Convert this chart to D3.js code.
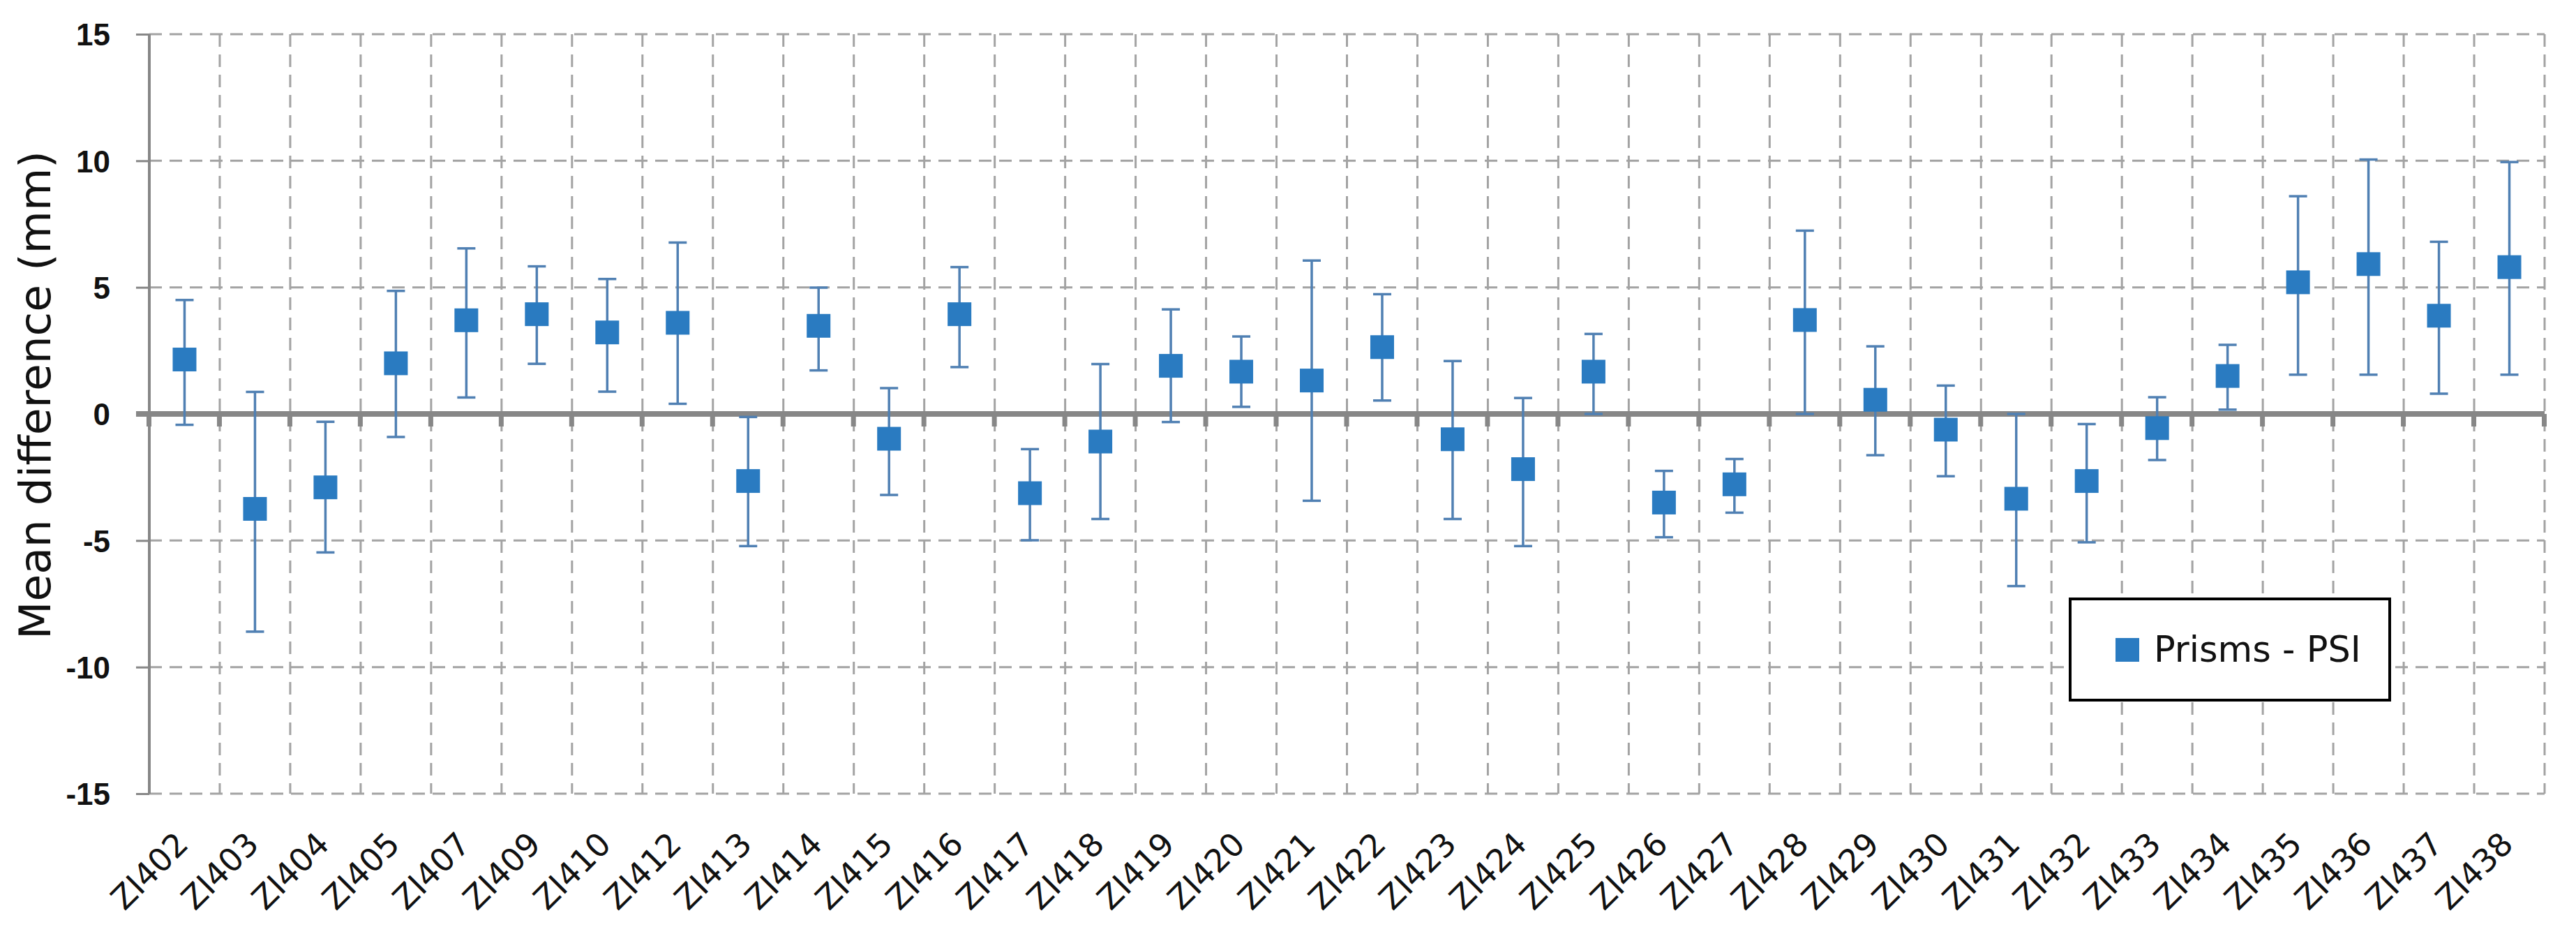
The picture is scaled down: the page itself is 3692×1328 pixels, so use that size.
<!DOCTYPE html>
<html>
<head>
<meta charset="utf-8">
<script src="https://cdn.jsdelivr.net/npm/d3@7"></script>
<style>
  html, body { margin: 0; padding: 0; background: #fff; }
  svg { display: block; }
</style>
</head>
<body>
<div id="chart"></div>
<script>
// Prisms - PSI mean difference per point, with error bars

const categories = ["ZI402", "ZI403", "ZI404", "ZI405", "ZI407", "ZI409", "ZI410", "ZI412", "ZI413", "ZI414",
    "ZI415", "ZI416", "ZI417", "ZI418", "ZI419", "ZI420", "ZI421", "ZI422", "ZI423", "ZI424",
    "ZI425", "ZI426", "ZI427", "ZI428", "ZI429", "ZI430", "ZI431", "ZI432", "ZI433", "ZI434",
    "ZI435", "ZI436", "ZI437", "ZI438"];

const meanDiff = [2.15, -3.75, -2.9, 2.0, 3.7, 3.94, 3.22, 3.6, -2.65, 3.48,
    -0.98, 3.94, -3.13, -1.09, 1.9, 1.67, 1.32, 2.64, -1.0, -2.18,
    1.67, -3.5, -2.78, 3.71, 0.56, -0.62, -3.35, -2.65, -0.56, 1.5,
    5.2, 5.92, 3.88, 5.8];

const upperBound = [4.5, 0.87, -0.31, 4.86, 6.54, 5.83, 5.33, 6.77, -0.12, 4.99,
    1.02, 5.8, -1.39, 1.97, 4.13, 3.06, 6.06, 4.73, 2.09, 0.63,
    3.16, -2.25, -1.78, 7.24, 2.67, 1.12, 0.0, -0.4, 0.66, 2.73,
    8.6, 10.05, 6.8, 9.95];

const lowerBound = [-0.43, -8.6, -5.47, -0.91, 0.65, 1.98, 0.88, 0.4, -5.22, 1.72,
    -3.2, 1.85, -4.99, -4.15, -0.32, 0.28, -3.43, 0.53, -4.15, -5.22,
    0.0, -4.87, -3.9, 0.0, -1.63, -2.46, -6.8, -5.07, -1.82, 0.17,
    1.55, 1.55, 0.8, 1.55];

const yTicks = [-15, -10, -5, 0, 5, 10, 15];
const seriesName = "Prisms - PSI";
const yTitle = "Mean  difference  (mm)";

const W = 3692, H = 1328;
const plotL = 214, plotR = 3647, plotT = 49, plotB = 1137;

const gridColor = "#a3a3a3";
const axisColor = "#878787";
const markerColor = "#2a7bc1";
const barColor = "#5080b3";

const svg = d3.select("#chart").append("svg")
    .attr("width", W).attr("height", H);

const x = d3.scaleBand().domain(categories).range([plotL, plotR]).padding(0);
const y = d3.scaleLinear().domain([-15, 15]).range([plotB, plotT]);

// dashed grid: horizontal at each tick except zero, vertical at category boundaries
const boundaries = categories.map(c => x(c) + x.bandwidth());

svg.append("g").selectAll("line")
    .data(yTicks.filter(v => v !== 0))
    .join("line")
    .attr("x1", plotL).attr("x2", plotR)
    .attr("y1", d => y(d)).attr("y2", d => y(d))
    .attr("stroke", gridColor).attr("stroke-width", 3)
    .attr("stroke-dasharray", "18,11");

svg.append("g").selectAll("line")
    .data(boundaries)
    .join("line")
    .attr("x1", d => d).attr("x2", d => d)
    .attr("y1", plotT).attr("y2", plotB)
    .attr("stroke", gridColor).attr("stroke-width", 3)
    .attr("stroke-dasharray", "18,11");

// y axis (plain hyphen for negatives, like the original)
const yAxis = d3.axisLeft(y).tickValues(yTicks).tickSize(19).tickPadding(0).tickFormat(d => String(d));
const yg = svg.append("g").attr("transform", `translate(${plotL},0)`).call(yAxis);
yg.select(".domain").attr("stroke", axisColor).attr("stroke-width", 4).attr("d", `M0,${plotT}V${plotB}`);
yg.selectAll(".tick line").attr("stroke", axisColor).attr("stroke-width", 3);
yg.selectAll(".tick text")
    .attr("x", -56)
    .attr("dy", "0.36em")
    .attr("fill", "#111")
    .style("font-family", "'Liberation Sans', Arial, sans-serif")
    .style("font-weight", "bold")
    .style("font-size", "44px");

// category axis sits on zero
const xAxis = d3.axisBottom(x).tickSize(0).tickFormat(d => d);
const xg = svg.append("g").attr("transform", `translate(0,${y(0)})`).call(xAxis);
xg.select(".domain").remove();
xg.selectAll(".tick text")
    .attr("text-anchor", "end")
    .attr("transform", `translate(8,${plotB - y(0) + 75}) rotate(-45)`)
    .attr("y", 0).attr("dy", 0)
    .attr("fill", "#111")
    .style("font-family", "'DejaVu Sans', Verdana, sans-serif")
    .style("font-size", "46px");

svg.append("line")
    .attr("x1", plotL - 19).attr("x2", plotR)
    .attr("y1", y(0)).attr("y2", y(0))
    .attr("stroke", axisColor).attr("stroke-width", 8);

svg.append("g").selectAll("rect")
    .data([plotL].concat(boundaries))
    .join("rect")
    .attr("x", d => d - 4).attr("y", y(0))
    .attr("width", 7).attr("height", 18)
    .attr("fill", axisColor);

// error bars
const series = categories.map((c, i) => ({ c, v: meanDiff[i], hi: upperBound[i], lo: lowerBound[i] }));
const cx = d => x(d.c) + x.bandwidth() / 2;
const capW = 26;

const eb = svg.append("g").attr("stroke", barColor).attr("stroke-width", 3.5);
eb.selectAll("line.stem").data(series).join("line")
    .attr("class", "stem")
    .attr("x1", cx).attr("x2", cx)
    .attr("y1", d => y(d.hi)).attr("y2", d => y(d.lo));
eb.selectAll("line.cap-hi").data(series).join("line")
    .attr("class", "cap-hi")
    .attr("x1", d => cx(d) - capW / 2).attr("x2", d => cx(d) + capW / 2)
    .attr("y1", d => y(d.hi)).attr("y2", d => y(d.hi));
eb.selectAll("line.cap-lo").data(series).join("line")
    .attr("class", "cap-lo")
    .attr("x1", d => cx(d) - capW / 2).attr("x2", d => cx(d) + capW / 2)
    .attr("y1", d => y(d.lo)).attr("y2", d => y(d.lo));

// square markers
const ms = 34;
svg.append("g").selectAll("rect").data(series).join("rect")
    .attr("x", d => cx(d) - ms / 2).attr("y", d => y(d.v) - ms / 2)
    .attr("width", ms).attr("height", ms)
    .attr("fill", markerColor);

// y axis title
svg.append("text")
    .attr("transform", `translate(72,566) rotate(-90)`)
    .attr("text-anchor", "middle")
    .attr("fill", "#111")
    .style("font-family", "'DejaVu Sans', Verdana, sans-serif")
    .style("font-size", "63px")
    .text(yTitle);

// legend
const lg = svg.append("g").attr("transform", "translate(2967,858)");
lg.append("rect")
    .attr("width", 458).attr("height", 145)
    .attr("fill", "#fff").attr("stroke", "#000").attr("stroke-width", 4);
lg.append("rect")
    .attr("x", 65).attr("y", 56).attr("width", 34).attr("height", 34)
    .attr("fill", markerColor);
lg.append("text")
    .attr("x", 120).attr("y", 90)
    .attr("fill", "#111")
    .style("font-family", "'DejaVu Sans', Verdana, sans-serif")
    .style("font-size", "51px")
    .text(seriesName);
</script>
</body>
</html>
